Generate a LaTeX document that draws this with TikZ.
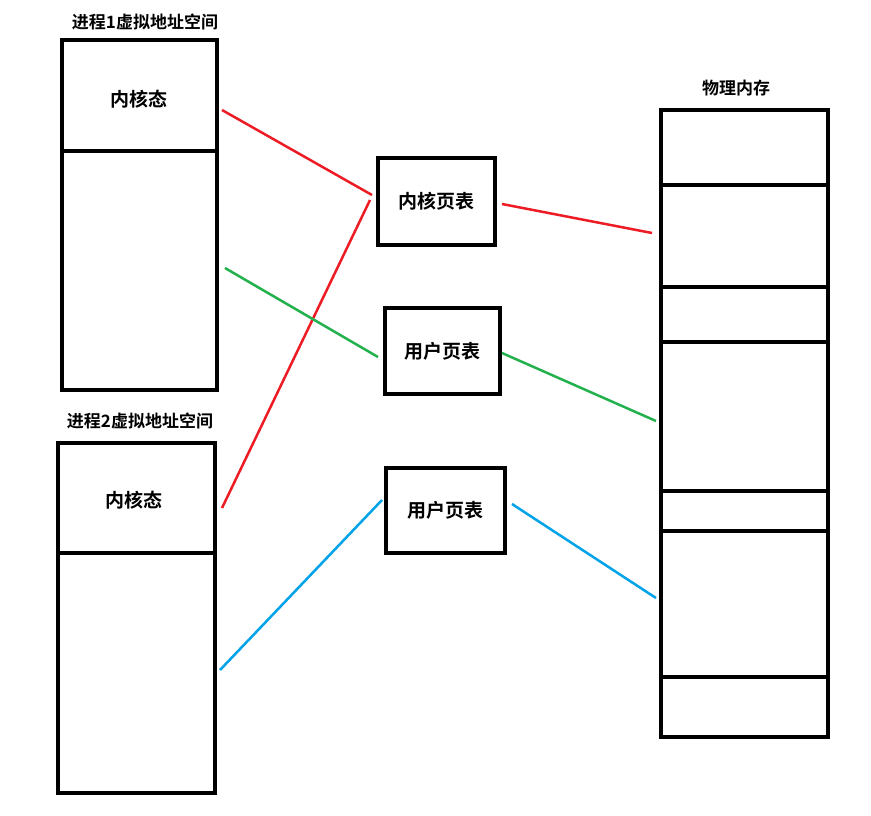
\documentclass[tikz,border=0pt]{standalone}
\usepackage{fontspec}
\newfontfamily\cjk{Noto Sans CJK SC}[BoldFont={Noto Sans CJK SC Bold}]
\begin{document}
\begin{tikzpicture}[x=1pt,y=-1pt,
  box/.style={draw=black,line width=3.5pt},
  lbl/.style={font=\cjk\bfseries\fontsize{19}{21}\selectfont},
  ttl/.style={font=\cjk\bfseries\fontsize{17}{19}\selectfont},
  conn/.style={line width=2.5pt}]
\useasboundingbox (0,0) rectangle (871,815);
% process 1
\draw[box] (62,40) rectangle (217,390);
\draw[box] (62,151) -- (217,151);
\node[ttl] (t1) at (145,22) {进程1虚拟地址空间};
\node[lbl] (k1) at (139,99) {内核态};
% process 2
\draw[box] (58,443) rectangle (215,793);
\draw[box] (58,553) -- (215,553);
\node[ttl] (t2) at (140,421) {进程2虚拟地址空间};
\node[lbl] (k2) at (134,500) {内核态};
% tables
\node[box,lbl,minimum width=117pt,minimum height=87pt,inner sep=0pt] (kt) at (436.5,201.5) {内核页表};
\node[box,lbl,minimum width=115pt,minimum height=86pt,inner sep=0pt] (ut1) at (442.5,351) {用户页表};
\node[box,lbl,minimum width=119pt,minimum height=85pt,inner sep=0pt] (ut2) at (445.5,510.5) {用户页表};
% physical memory
\node[ttl] (pt) at (736,88) {物理内存};
\draw[box] (661,110) rectangle (828,737);
\foreach \yy in {185,287,342,491,531,677} \draw[box] (661,\yy) -- (828,\yy);
% connector ends
\coordinate (a1) at (222,110); \coordinate (a2) at (372,195);
\coordinate (a3) at (502,204); \coordinate (a4) at (652,233);
\coordinate (a5) at (222,508); \coordinate (a6) at (370,200);
\coordinate (g1) at (225,268); \coordinate (g2) at (378,357);
\coordinate (g3) at (502,353); \coordinate (g4) at (656,421);
\coordinate (b1) at (220,670); \coordinate (b2) at (382,500);
\coordinate (b3) at (512,504); \coordinate (b4) at (656,598);
\definecolor{myred}{RGB}{237,28,36}
\definecolor{mygreen}{RGB}{34,177,76}
\definecolor{myblue}{RGB}{0,162,232}
\draw[conn,myred] (a1) -- (a2);
\draw[conn,myred] (a3) -- (a4);
\draw[conn,myred] (a5) -- (a6);
\draw[conn,mygreen] (g1) -- (g2);
\draw[conn,mygreen] (g3) -- (g4);
\draw[conn,myblue] (b1) -- (b2);
\draw[conn,myblue] (b3) -- (b4);
\end{tikzpicture}
\end{document}
